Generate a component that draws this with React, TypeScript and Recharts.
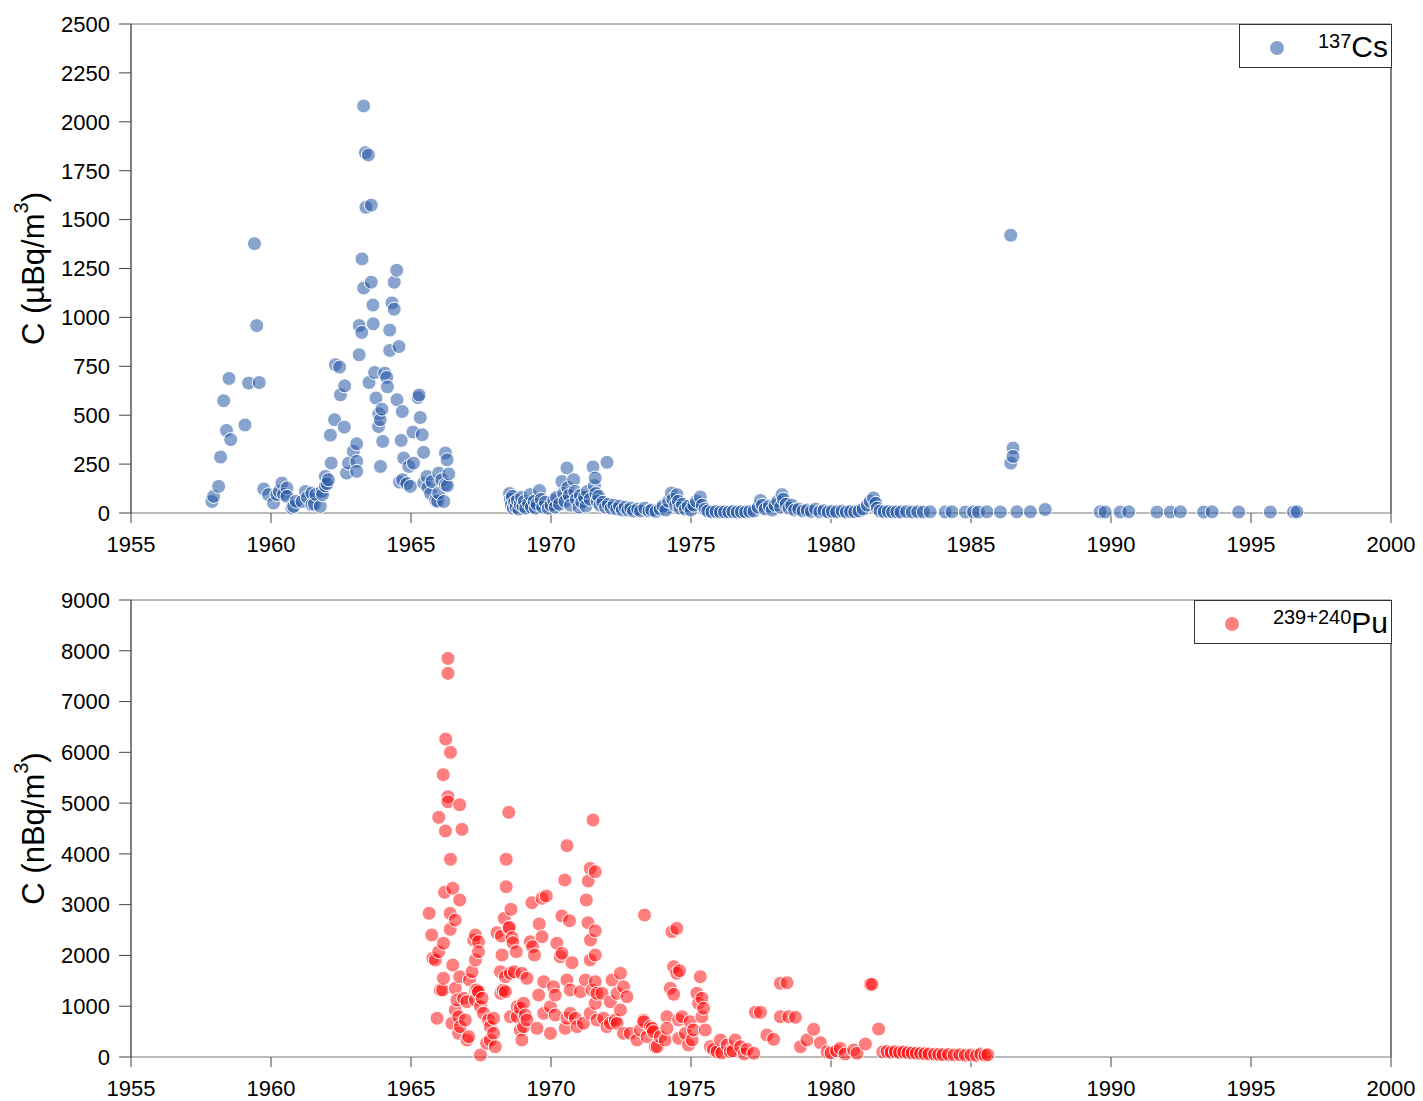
import React from 'react';
import { ScatterChart, Scatter, XAxis, YAxis, ReferenceLine } from 'recharts';

// [year, concentration]
const csEarly: [number, number][] = [
  [1957.89, 59], [1957.95, 85], [1958.13, 136], [1958.2, 286], [1958.31, 574], [1958.41, 422],
  [1958.5, 688], [1958.56, 375], [1959.07, 450], [1959.2, 664], [1959.41, 1377], [1959.49, 958],
  [1959.58, 667], [1959.74, 123], [1959.91, 94], [1960.09, 51], [1960.21, 94], [1960.3, 110],
  [1960.39, 153], [1960.45, 95], [1960.57, 128], [1960.57, 85], [1960.75, 26], [1960.81, 34],
  [1960.9, 60], [1961.11, 59], [1961.23, 110], [1961.3, 80], [1961.46, 102], [1961.46, 42],
  [1961.55, 45], [1961.6, 95], [1961.76, 34], [1961.82, 110], [1961.84, 94], [1961.94, 139],
  [1961.94, 187], [1962.0, 150], [1962.05, 170], [1962.12, 398], [1962.15, 255], [1962.27, 477],
  [1962.3, 758], [1962.45, 746], [1962.48, 604], [1962.62, 439], [1962.63, 650], [1962.7, 204],
  [1962.77, 255], [1962.94, 315], [1963.06, 354], [1963.06, 264], [1963.06, 213], [1963.15, 958],
  [1963.15, 809], [1963.24, 923], [1963.25, 1299], [1963.31, 2081], [1963.31, 1150], [1963.37, 1842],
  [1963.39, 1563], [1963.48, 1830], [1963.5, 667], [1963.58, 1574], [1963.58, 1180], [1963.64, 1063],
  [1963.65, 967], [1963.7, 718], [1963.75, 588], [1963.84, 442], [1963.85, 507], [1963.9, 477],
  [1963.91, 238], [1963.96, 531], [1963.99, 366], [1964.06, 715], [1964.13, 693], [1964.16, 645],
  [1964.24, 935], [1964.24, 831], [1964.32, 1074], [1964.4, 1180], [1964.4, 1042], [1964.49, 1241],
  [1964.5, 579], [1964.57, 851], [1964.59, 158], [1964.65, 371], [1964.69, 519], [1964.7, 170],
  [1964.74, 281], [1964.85, 150], [1964.92, 238], [1964.98, 136], [1965.07, 414], [1965.09, 255],
  [1965.25, 590], [1965.29, 603], [1965.33, 488], [1965.4, 400], [1965.45, 310], [1965.45, 153],
  [1965.57, 187], [1965.6, 130], [1965.7, 100], [1965.75, 161], [1965.88, 64], [1965.95, 60],
  [1965.99, 204], [1965.99, 102], [1966.1, 170], [1966.17, 59], [1966.23, 307], [1966.23, 145],
  [1966.29, 272], [1966.3, 140], [1966.35, 200],
];

const csLate: [number, number][] = [
  [1968.52, 100], [1968.55, 70], [1968.58, 40], [1968.62, 85], [1968.65, 25], [1968.7, 55],
  [1968.75, 30], [1968.8, 65], [1968.85, 20], [1968.9, 45], [1968.95, 80], [1969.0, 35],
  [1969.05, 60], [1969.1, 25], [1969.2, 50], [1969.26, 94], [1969.3, 30], [1969.4, 60],
  [1969.45, 25], [1969.5, 45], [1969.59, 115], [1969.65, 70], [1969.7, 30], [1969.8, 55],
  [1969.9, 25], [1970.0, 40], [1970.1, 65], [1970.15, 30], [1970.2, 80], [1970.3, 45],
  [1970.39, 161], [1970.45, 100], [1970.5, 60], [1970.57, 230], [1970.6, 130], [1970.65, 90],
  [1970.7, 40], [1970.81, 170], [1970.85, 110], [1970.9, 70], [1971.0, 30], [1971.05, 90],
  [1971.1, 55], [1971.2, 80], [1971.25, 35], [1971.3, 110], [1971.4, 70], [1971.5, 235],
  [1971.55, 140], [1971.58, 179], [1971.6, 100], [1971.65, 60], [1971.7, 85], [1971.75, 40],
  [1971.85, 55], [1971.95, 30], [1972.0, 259], [1972.05, 45], [1972.15, 25], [1972.25, 40],
  [1972.35, 20], [1972.45, 35], [1972.55, 15], [1972.65, 30], [1972.75, 15], [1972.85, 25],
  [1972.95, 10], [1973.1, 20], [1973.2, 10], [1973.35, 25], [1973.5, 10], [1973.6, 15],
  [1973.75, 8], [1973.9, 20], [1974.0, 35], [1974.1, 15], [1974.2, 60], [1974.3, 102],
  [1974.35, 70], [1974.45, 40], [1974.5, 94], [1974.55, 60], [1974.6, 25], [1974.7, 45],
  [1974.8, 20], [1974.9, 35], [1975.0, 15], [1975.1, 40], [1975.2, 60], [1975.33, 82],
  [1975.4, 40], [1975.5, 20], [1975.6, 10], [1975.75, 5], [1975.9, 8], [1976.05, 5],
  [1976.2, 6], [1976.35, 5], [1976.5, 7], [1976.65, 5], [1976.8, 6], [1976.95, 5],
  [1977.1, 8], [1977.25, 10], [1977.4, 30], [1977.48, 64], [1977.55, 40], [1977.65, 20],
  [1977.8, 35], [1977.9, 15], [1978.0, 40], [1978.1, 60], [1978.2, 30], [1978.25, 94],
  [1978.3, 70], [1978.4, 45], [1978.5, 25], [1978.6, 40], [1978.7, 15], [1978.85, 20],
  [1979.0, 10], [1979.15, 15], [1979.3, 8], [1979.45, 20], [1979.6, 6], [1979.75, 12],
  [1979.9, 5], [1980.05, 8], [1980.2, 6], [1980.4, 10], [1980.55, 5], [1980.7, 8],
  [1980.85, 6], [1981.0, 10], [1981.15, 20], [1981.3, 40], [1981.4, 60], [1981.52, 77],
  [1981.6, 50], [1981.65, 25], [1981.75, 10], [1981.9, 6], [1982.05, 8], [1982.2, 5],
  [1982.35, 6], [1982.5, 5], [1982.7, 7], [1982.9, 5], [1983.1, 6], [1983.3, 5],
  [1983.54, 6], [1984.08, 5], [1984.32, 6], [1984.8, 5], [1985.09, 6], [1985.27, 5],
  [1985.57, 6], [1986.05, 5], [1986.42, 1420], [1986.42, 255], [1986.5, 332], [1986.5, 289],
  [1986.64, 6], [1987.12, 6], [1987.65, 18], [1989.61, 6], [1989.79, 5], [1990.33, 5],
  [1990.63, 6], [1991.64, 5], [1992.12, 5], [1992.48, 6], [1993.31, 5], [1993.61, 6],
  [1994.56, 5], [1995.69, 5], [1996.52, 5], [1996.64, 6],
];

const puPoints: [number, number][] = [
  [1965.65, 2829], [1965.74, 2402], [1965.78, 1943], [1965.87, 1910], [1965.93, 762], [1965.99, 4720],
  [1965.99, 2074], [1966.05, 1319], [1966.13, 1319], [1966.15, 5559], [1966.16, 2239], [1966.16, 1550],
  [1966.2, 3243], [1966.23, 4450], [1966.24, 6261], [1966.32, 7850], [1966.32, 7555], [1966.32, 5125],
  [1966.32, 5027], [1966.4, 2829], [1966.4, 2514], [1966.41, 5999], [1966.41, 3893], [1966.46, 663],
  [1966.49, 3322], [1966.49, 1811], [1966.58, 2697], [1966.58, 1353], [1966.58, 925], [1966.64, 1122],
  [1966.7, 793], [1966.7, 466], [1966.74, 4968], [1966.74, 3091], [1966.74, 1581], [1966.76, 597],
  [1966.82, 4483], [1966.88, 1156], [1966.94, 728], [1967.0, 1089], [1967.0, 335], [1967.06, 400],
  [1967.09, 1516], [1967.18, 1680], [1967.24, 2304], [1967.3, 2402], [1967.3, 1910], [1967.3, 1319],
  [1967.3, 1122], [1967.36, 1319], [1967.41, 2270], [1967.41, 2074], [1967.41, 1286], [1967.48, 990],
  [1967.48, 39], [1967.54, 1156], [1967.59, 860], [1967.7, 270], [1967.77, 728], [1967.83, 597],
  [1967.83, 335], [1967.95, 762], [1967.95, 466], [1968.01, 203], [1968.07, 2448], [1968.19, 1680],
  [1968.21, 1254], [1968.23, 2383], [1968.25, 2009], [1968.29, 1319], [1968.33, 2731], [1968.37, 1581],
  [1968.37, 1286], [1968.4, 3893], [1968.4, 3353], [1968.49, 4818], [1968.49, 2534], [1968.51, 2554],
  [1968.55, 1648], [1968.55, 793], [1968.57, 2908], [1968.61, 2349], [1968.64, 2250], [1968.69, 1680],
  [1968.76, 2074], [1968.79, 990], [1968.79, 793], [1968.9, 959], [1968.9, 532], [1968.96, 1648],
  [1968.96, 335], [1969.02, 1057], [1969.02, 597], [1969.08, 827], [1969.14, 1550], [1969.14, 728],
  [1969.26, 2270], [1969.32, 3038], [1969.34, 2172], [1969.41, 2009], [1969.5, 565], [1969.56, 1221],
  [1969.58, 2619], [1969.68, 3125], [1969.68, 2369], [1969.74, 1483], [1969.74, 860], [1969.83, 3170],
  [1969.98, 990], [1969.98, 466], [1970.09, 1384], [1970.15, 1221], [1970.15, 827], [1970.21, 2239],
  [1970.33, 1975], [1970.39, 2776], [1970.39, 2042], [1970.49, 3485], [1970.51, 565], [1970.57, 4161],
  [1970.57, 1516], [1970.57, 762], [1970.66, 2684], [1970.69, 1319], [1970.69, 860], [1970.75, 1857],
  [1970.87, 762], [1970.93, 597], [1971.05, 1286], [1971.16, 663], [1971.23, 1516], [1971.26, 3091],
  [1971.32, 2644], [1971.33, 3466], [1971.4, 3715], [1971.4, 1910], [1971.4, 860], [1971.41, 2304],
  [1971.46, 1319], [1971.5, 4667], [1971.58, 3649], [1971.58, 2487], [1971.58, 2009], [1971.58, 1483],
  [1971.58, 1057], [1971.64, 1254], [1971.64, 728], [1971.82, 1254], [1971.88, 762], [1972.0, 597],
  [1972.12, 1089], [1972.12, 663], [1972.18, 1516], [1972.3, 728], [1972.36, 1254], [1972.36, 663],
  [1972.48, 1648], [1972.48, 925], [1972.59, 1384], [1972.59, 466], [1972.71, 1187], [1972.83, 466],
  [1973.07, 335], [1973.19, 532], [1973.31, 728], [1973.31, 695], [1973.34, 2796], [1973.43, 400],
  [1973.55, 597], [1973.61, 565], [1973.66, 498], [1973.72, 203], [1973.79, 203], [1973.9, 400],
  [1974.08, 335], [1974.14, 793], [1974.14, 565], [1974.26, 1353], [1974.32, 2467], [1974.38, 1778],
  [1974.38, 1235], [1974.49, 2534], [1974.49, 1648], [1974.56, 728], [1974.56, 368], [1974.59, 1699],
  [1974.68, 793], [1974.8, 466], [1974.91, 236], [1974.97, 695], [1975.04, 335], [1975.09, 532],
  [1975.21, 1254], [1975.27, 1057], [1975.33, 1581], [1975.39, 1156], [1975.39, 793], [1975.45, 959],
  [1975.51, 532], [1975.69, 203], [1975.8, 150], [1975.93, 104], [1976.05, 335], [1976.1, 80],
  [1976.29, 236], [1976.4, 104], [1976.5, 120], [1976.58, 335], [1976.77, 203], [1976.9, 60],
  [1977.0, 150], [1977.24, 73], [1977.3, 880], [1977.48, 880], [1977.71, 433], [1977.95, 348],
  [1978.19, 1451], [1978.19, 793], [1978.43, 1463], [1978.49, 793], [1978.73, 781], [1978.91, 203],
  [1979.14, 335], [1979.38, 545], [1979.62, 282], [1979.86, 104], [1980.0, 80], [1980.2, 120],
  [1980.33, 171], [1980.5, 60], [1980.81, 138], [1980.93, 73], [1981.23, 256], [1981.4, 1431],
  [1981.46, 1431], [1981.7, 551], [1981.85, 100], [1982.0, 110], [1982.15, 95], [1982.3, 105],
  [1982.45, 90], [1982.6, 100], [1982.75, 85], [1982.9, 80], [1983.05, 75], [1983.2, 70],
  [1983.35, 65], [1983.5, 60], [1983.7, 55], [1983.85, 50], [1984.0, 45], [1984.2, 50],
  [1984.4, 40], [1984.6, 45], [1984.8, 35], [1985.0, 40], [1985.2, 30], [1985.35, 60],
  [1985.5, 35], [1985.6, 45],
];

const yearTicks = [1955, 1960, 1965, 1970, 1975, 1980, 1985, 1990, 1995, 2000];
const csTicks = [0, 250, 500, 750, 1000, 1250, 1500, 1750, 2000, 2250, 2500];
const puTicks = [0, 1000, 2000, 3000, 4000, 5000, 6000, 7000, 8000, 9000];

const FONT = '"Liberation Sans", Arial, sans-serif';

const toRows = (pts: [number, number][]) => pts.map(([x, y]) => ({ x, y }));

const dot = (fill: string, opacity: number) => (props: any) => (
  <circle
    cx={props.cx}
    cy={props.cy}
    r={7}
    fill={fill}
    fillOpacity={opacity}
    stroke="#ffffff"
    strokeWidth={1}
  />
);

// rotated y-axis title with a superscript 3
const AxisTitle = ({ viewBox, unit }: any) => {
  const cx = viewBox.x + 33;
  const cy = viewBox.y + viewBox.height / 2;
  return (
    <text
      x={cx}
      y={cy}
      transform={`rotate(-90 ${cx} ${cy})`}
      textAnchor="middle"
      dominantBaseline="central"
      fontFamily={FONT}
      fontSize={31}
      fill="#000"
    >
      {`C (${unit}/m`}
      <tspan dy={-12} fontSize={20}>3</tspan>
      <tspan dy={12}>)</tspan>
    </text>
  );
};

const LegendBox = ({ left, top, width, color, sup, label }: any) => (
  <div
    style={{
      position: 'absolute',
      left,
      top,
      width,
      height: 44,
      border: '1px solid #333',
      background: '#fff',
      boxSizing: 'border-box',
      fontFamily: FONT,
    }}
  >
    <svg width={20} height={20} style={{ position: 'absolute', left: 27, top: 13 }}>
      <circle cx={10} cy={10} r={7} fill={color} />
    </svg>
    <div style={{ position: 'absolute', right: 3, top: 4, fontSize: 30, lineHeight: '36px', color: '#000' }}>
      <span style={{ fontSize: 20, verticalAlign: 'top', position: 'relative', top: -6 }}>{sup}</span>
      {label}
    </div>
  </div>
);

const tickStyle = { fontSize: 22, fill: '#000', fontFamily: FONT };

export default function App() {
  const csData = toRows([...csEarly, ...csLate]);
  const puData = toRows(puPoints);

  return (
    <div style={{ position: 'absolute', left: 0, top: 0, width: 1423, height: 1101, background: '#fff' }}>
      <div style={{ position: 'absolute', left: 0, top: 0 }}>
        <ScatterChart width={1423} height={560} margin={{ top: 24, right: 32, bottom: 12, left: 0 }}>
          <XAxis
            type="number"
            dataKey="x"
            domain={[1955, 2000]}
            ticks={yearTicks}
            interval={0}
            height={35}
            tick={tickStyle}
            tickSize={10}
            tickMargin={13}
            axisLine={{ stroke: '#777' }}
            tickLine={{ stroke: '#444' }}
          />
          <YAxis
            type="number"
            dataKey="y"
            domain={[0, 2500]}
            ticks={csTicks}
            interval={0}
            width={131}
            tick={tickStyle}
            tickSize={12}
            tickMargin={9}
            axisLine={{ stroke: '#000' }}
            tickLine={{ stroke: '#444' }}
            label={<AxisTitle unit="µBq" />}
          />
          <ReferenceLine y={2500} stroke="#777" />
          <ReferenceLine x={2000} stroke="#000" />
          <Scatter data={csData} shape={dot('#2457a6', 0.55)} isAnimationActive={false} />
        </ScatterChart>
      </div>
      <div style={{ position: 'absolute', left: 0, top: 560 }}>
        <ScatterChart width={1423} height={541} margin={{ top: 40, right: 32, bottom: 9, left: 0 }}>
          <XAxis
            type="number"
            dataKey="x"
            domain={[1955, 2000]}
            ticks={yearTicks}
            interval={0}
            height={35}
            tick={tickStyle}
            tickSize={10}
            tickMargin={13}
            axisLine={{ stroke: '#777' }}
            tickLine={{ stroke: '#444' }}
          />
          <YAxis
            type="number"
            dataKey="y"
            domain={[0, 9000]}
            ticks={puTicks}
            interval={0}
            width={131}
            tick={tickStyle}
            tickSize={12}
            tickMargin={9}
            axisLine={{ stroke: '#000' }}
            tickLine={{ stroke: '#444' }}
            label={<AxisTitle unit="nBq" />}
          />
          <ReferenceLine y={9000} stroke="#777" />
          <ReferenceLine x={2000} stroke="#000" />
          <Scatter data={puData} shape={dot('#ff0000', 0.5)} isAnimationActive={false} />
        </ScatterChart>
      </div>
      <LegendBox left={1239} top={24} width={153} color="#86a3cf" sup="137" label="Cs" />
      <LegendBox left={1194} top={600} width={198} color="#ff8080" sup="239+240" label="Pu" />
    </div>
  );
}
